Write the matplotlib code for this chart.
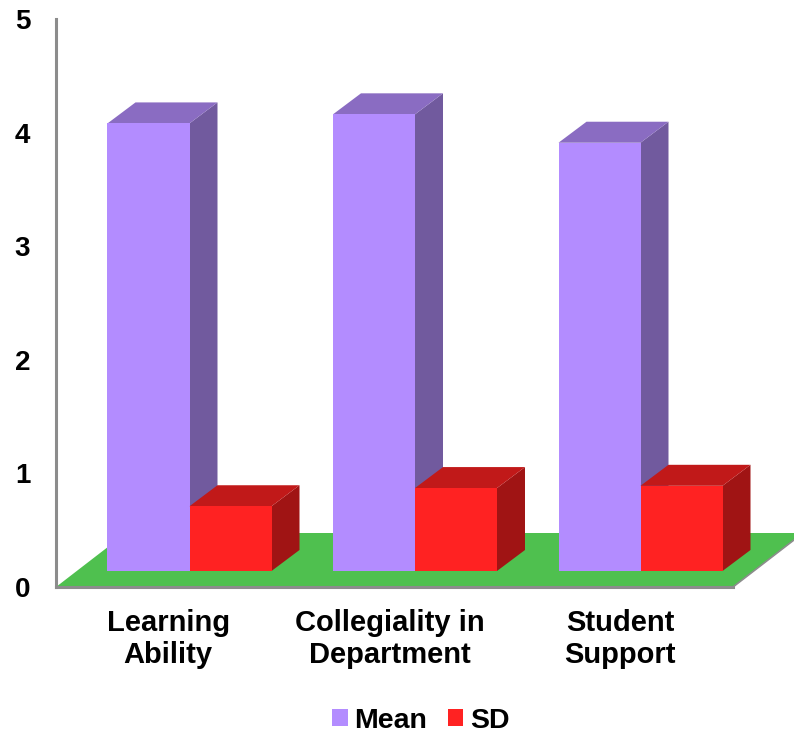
import matplotlib
matplotlib.use("Agg")
import matplotlib.pyplot as plt
from matplotlib.patches import Polygon, Rectangle

plt.rcParams['font.family'] = ['Liberation Sans', 'DejaVu Sans']

categories = ["Learning\nAbility", "Collegiality in\nDepartment", "Student\nSupport"]
mean_values = [3.94, 4.02, 3.77]
sd_values = [0.57, 0.73, 0.75]
y_ticks = [0, 1, 2, 3, 4, 5]

W, H = 794, 732
PX_X = 225.5   # pixels per category
PX_Y = 113.6   # pixels per value unit
LEFT_PX, BOTTOM_PX = 56, 587

BAR_W = 82 / PX_X
DEPTH_X = 28 / PX_X
DEPTH_Y = 21 / PX_Y
BASE_Y = 16 / PX_Y
FLOOR_BACK = 54 / PX_Y
FLOOR_SKEW = 70 / PX_X
LABEL_SHIFT = [-0.095, -0.113, -0.09]

PURPLE = ("#B38CFF", "#8A6CC2", "#715A9E")
RED = ("#FF2222", "#C11919", "#A01414")
GREEN = "#4FC04F"
GREY = "#8C8C8C"

fig = plt.figure(figsize=(W / 100, H / 100), dpi=100)
ax = fig.add_axes([LEFT_PX / W, (H - BOTTOM_PX) / H, (W - LEFT_PX) / W, 5 * PX_Y / H])
x0 = -(189.5 - LEFT_PX) / PX_X
ax.set_xlim(x0, x0 + (W - LEFT_PX) / PX_X)
ax.set_ylim(0, 5)
ax.patch.set_visible(False)


def box(x, value, colors, z):
    """Draw a pseudo-3D column with its front-left base at x."""
    top = BASE_Y + value
    front, roof, side = colors
    ax.add_patch(Polygon([(x + BAR_W, BASE_Y), (x + BAR_W + DEPTH_X, BASE_Y + DEPTH_Y),
                          (x + BAR_W + DEPTH_X, top + DEPTH_Y), (x + BAR_W, top)],
                         facecolor=side, edgecolor="none", zorder=z))
    ax.add_patch(Polygon([(x, top), (x + DEPTH_X, top + DEPTH_Y),
                          (x + BAR_W + DEPTH_X, top + DEPTH_Y), (x + BAR_W, top)],
                         facecolor=roof, edgecolor="none", zorder=z))
    ax.add_patch(Rectangle((x, BASE_Y), BAR_W, value, facecolor=front,
                           edgecolor="none", zorder=z + 0.1))


# floor plane with a thin shadow along its front and right edges
floor_right = (733 - 189.5) / PX_X
ax.add_patch(Polygon([(x0, 0), (floor_right, 0), (floor_right + FLOOR_SKEW, FLOOR_BACK),
                      (x0 + FLOOR_SKEW, FLOOR_BACK)],
                     facecolor=GREEN, edgecolor="none", zorder=1))
ax.plot([floor_right, floor_right + FLOOR_SKEW], [0, FLOOR_BACK], color=GREY, lw=1.2,
        zorder=1.2)

for i, (m, s) in enumerate(zip(mean_values, sd_values)):
    box(i - BAR_W, m, PURPLE, 2 + i)
    box(i, s, RED, 2.5 + i)

for side in ("top", "right"):
    ax.spines[side].set_visible(False)
ax.spines["left"].set_color(GREY)
ax.spines["bottom"].set_color(GREY)
ax.spines["left"].set_linewidth(2.2)
ax.spines["bottom"].set_linewidth(2.2)
ax.spines["bottom"].set_bounds(x0, floor_right)
ax.spines["left"].set_zorder(10)
ax.spines["bottom"].set_zorder(10)

ax.set_yticks(y_ticks)
ax.set_yticklabels([str(t) for t in y_ticks], fontsize=20, fontweight="bold")
ax.tick_params(axis="y", length=0, pad=18.5)
ax.set_xticks([i + d for i, d in enumerate(LABEL_SHIFT)])
ax.set_xticklabels(categories, fontsize=21, fontweight="bold", linespacing=1.22)
ax.tick_params(axis="x", length=0, pad=15.5)

handles = [Rectangle((0, 0), 1, 1, facecolor=PURPLE[0]), Rectangle((0, 0), 1, 1, facecolor=RED[0])]
fig.legend(handles, ["Mean", "SD"], loc="center", bbox_to_anchor=(421 / W, (H - 720.5) / H),
           ncol=2, frameon=False, prop={"size": 20.5, "weight": "bold"},
           handlelength=0.53, handleheight=0.53, handletextpad=0.24, columnspacing=0.73,
           borderpad=0, borderaxespad=0)

fig.savefig("out.png", dpi=100)
